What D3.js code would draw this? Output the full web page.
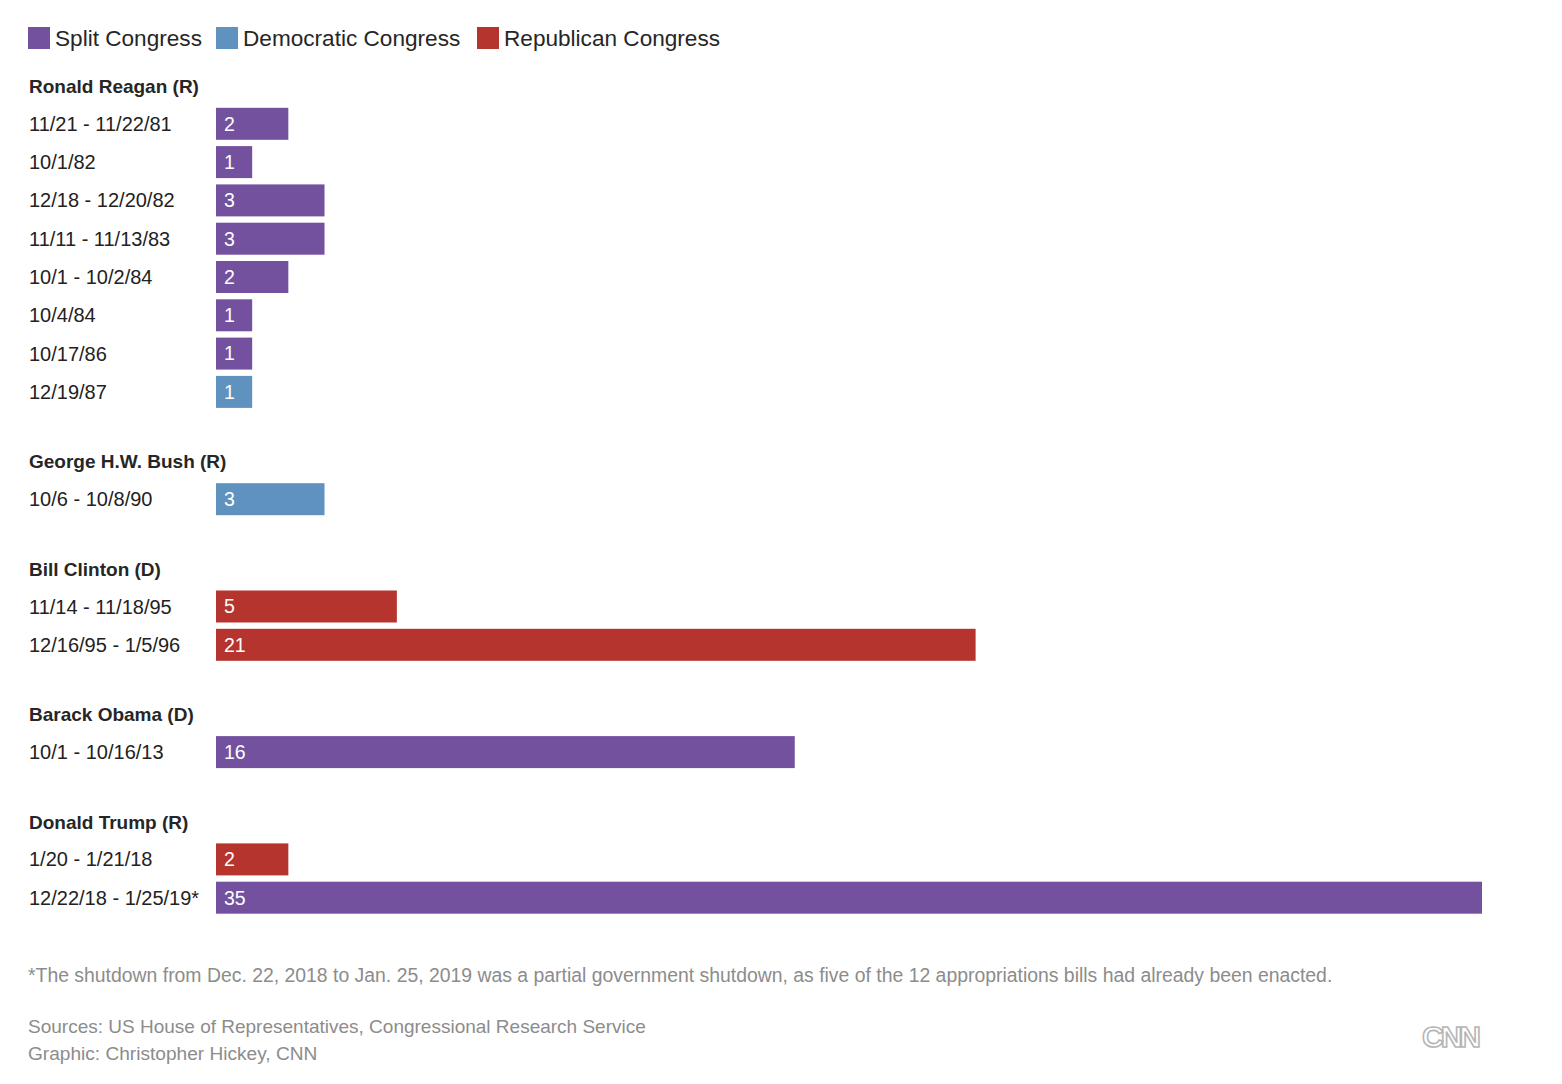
<!DOCTYPE html>
<html><head><meta charset="utf-8">
<script src="https://cdn.jsdelivr.net/npm/d3@7"></script>
<style>body{margin:0;background:#fff;} svg{display:block;}</style>
</head><body>
<svg id="c" width="1562" height="1084"></svg>
<script>
const presidents = ["Ronald Reagan (R)", "George H.W. Bush (R)", "Bill Clinton (D)", "Barack Obama (D)", "Donald Trump (R)"];
const periods = ["11/21 - 11/22/81","10/1/82","12/18 - 12/20/82","11/11 - 11/13/83","10/1 - 10/2/84","10/4/84","10/17/86","12/19/87",
  "10/6 - 10/8/90","11/14 - 11/18/95","12/16/95 - 1/5/96","10/1 - 10/16/13","1/20 - 1/21/18","12/22/18 - 1/25/19*"];
const days = [2,1,3,3,2,1,1,1,3,5,21,16,2,35];
const presidentIndex = [0,0,0,0,0,0,0,0,1,2,2,3,4,4];
const congress = ["Split","Split","Split","Split","Split","Split","Split","Democratic","Democratic","Republican","Republican","Split","Republican","Split"];
const legendLabels = ["Split Congress","Democratic Congress","Republican Congress"];
const footnote = "*The shutdown from Dec. 22, 2018 to Jan. 25, 2019 was a partial government shutdown, as five of the 12 appropriations bills had already been enacted.";
const sources = "Sources: US House of Representatives, Congressional Research Service";
const credit = "Graphic: Christopher Hickey, CNN";

const svg = d3.select("#c");
const font = "'Liberation Sans', Arial, Helvetica, sans-serif";
const color = d3.scaleOrdinal().domain(["Split","Democratic","Republican"]).range(["#74519f","#6092c0","#b5342d"]);
const x = d3.scaleLinear().domain([0,35]).range([216,1482]);

// legend
const legX = [28,216,477];
const leg = svg.append("g");
legendLabels.forEach((l,i)=>{
  leg.append("rect").attr("x",legX[i]).attr("y",27).attr("width",22).attr("height",22).attr("fill",color(color.domain()[i]));
  leg.append("text").attr("x",legX[i]+27).attr("y",38).attr("dy","0.35em").attr("font-family",font).attr("font-size",22.6).attr("fill","#262626").text(l);
});

// layout
let cursor = 86.3;
const headerY = [], rowY = [];
presidents.forEach((p,gi)=>{
  headerY[gi] = cursor;
  let y = cursor + 37.5;
  let last = y;
  presidentIndex.forEach((pi,ri)=>{ if(pi===gi){ rowY[ri]=y; last=y; y+=38.3; } });
  cursor = last + 69.8;
});

svg.append("g").selectAll("text").data(presidents).join("text")
  .attr("x",29).attr("y",(d,i)=>headerY[i]).attr("dy","0.35em")
  .attr("font-family",font).attr("font-size",19).attr("font-weight","bold").attr("fill","#262626").text(d=>d);

svg.append("g").selectAll("text").data(periods).join("text")
  .attr("x",29).attr("y",(d,i)=>rowY[i]).attr("dy","0.35em")
  .attr("font-family",font).attr("font-size",20).attr("fill","#222").text(d=>d);

svg.append("g").selectAll("rect").data(days).join("rect")
  .attr("x",x(0)).attr("y",(d,i)=>rowY[i]-16).attr("width",d=>x(d)-x(0)).attr("height",32)
  .attr("fill",(d,i)=>color(congress[i]));

svg.append("g").selectAll("text").data(days).join("text")
  .attr("x",x(0)+8).attr("y",(d,i)=>rowY[i]).attr("dy","0.35em")
  .attr("font-family",font).attr("font-size",19.5).attr("fill","#fff").text(d=>d);

// footer
svg.append("text").attr("x",28).attr("y",975).attr("dy","0.35em").attr("font-family",font).attr("font-size",19.4).attr("fill","#8c8c8c").text(footnote);
svg.append("text").attr("x",28).attr("y",1026).attr("dy","0.35em").attr("font-family",font).attr("font-size",19).attr("fill","#8c8c8c").text(sources);
svg.append("text").attr("x",28).attr("y",1053).attr("dy","0.35em").attr("font-family",font).attr("font-size",19.1).attr("fill","#8c8c8c").text(credit);

// CNN logo
svg.append("text").attr("x",1450).attr("y",1036).attr("dy","0.35em").attr("text-anchor","middle")
  .attr("font-family",font).attr("font-size",30).attr("font-weight","bold").attr("letter-spacing",-3)
  .attr("fill","none").attr("stroke","#b5b5b5").attr("stroke-width",1.6).text("CNN");
</script>
</body></html>
